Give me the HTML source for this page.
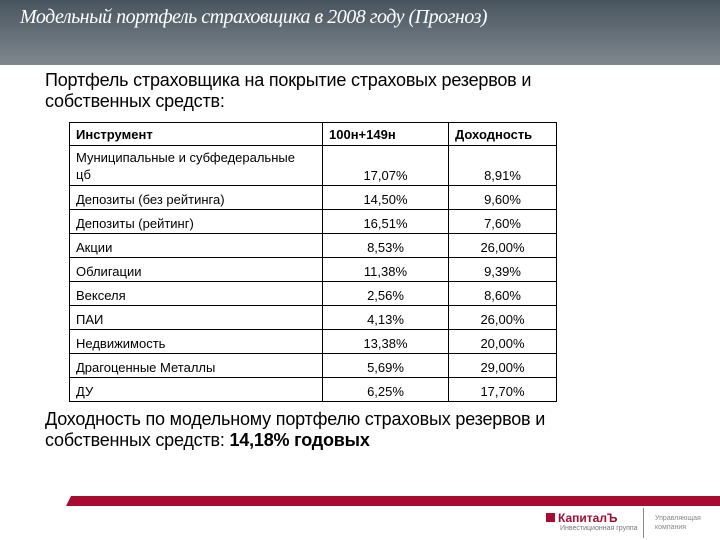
<!DOCTYPE html>
<html><head><meta charset="utf-8">
<style>
body{margin:0;width:720px;height:540px;position:relative;background:#fff;overflow:hidden;font-family:"Liberation Sans","DejaVu Sans",sans-serif;}
#hdr{position:absolute;left:0;top:0;width:720px;height:65px;background:linear-gradient(#48555f,#7f888f);}
#title{position:absolute;left:20px;top:6px;color:#fff;font-family:"Liberation Serif",serif;font-style:italic;font-size:20px;letter-spacing:-0.5px;}
.p{position:absolute;left:45px;font-size:18px;color:#000;line-height:21px;letter-spacing:-0.2px;}
table{position:absolute;left:69px;top:122px;border-collapse:collapse;font-size:13px;table-layout:fixed;}
td,th{border:1px solid #000;padding:0 6px 2px 6px;height:21px;line-height:15px;vertical-align:bottom;box-sizing:content-box;}
td.n{text-align:center;}
th{font-weight:bold;text-align:left;height:22px;vertical-align:middle;padding:0 6px;}
#red{position:absolute;left:66px;top:496px;width:654px;height:10px;background:#a80a30;}
#redtip{position:absolute;left:66px;top:496px;width:0;height:0;border-top:10px solid #fff;border-right:5px solid transparent;}
</style></head><body>
<div id="hdr"></div>
<div id="title">Модельный портфель страховщика в 2008 году (Прогноз)</div>
<div class="p" style="top:70px">Портфель страховщика на покрытие страховых резервов и<br>собственных средств:</div>
<table>
<colgroup><col style="width:253px"><col style="width:126px"><col style="width:108px"></colgroup>
<tr><th>Инструмент</th><th>100н+149н</th><th>Доходность</th></tr>
<tr><td style="height:37px;line-height:17px">Муниципальные и субфедеральные<br>цб</td><td class="n" style="height:37px">17,07%</td><td class="n" style="height:37px">8,91%</td></tr>
<tr><td>Депозиты (без рейтинга)</td><td class="n">14,50%</td><td class="n">9,60%</td></tr>
<tr><td>Депозиты (рейтинг)</td><td class="n">16,51%</td><td class="n">7,60%</td></tr>
<tr><td>Акции</td><td class="n">8,53%</td><td class="n">26,00%</td></tr>
<tr><td>Облигации</td><td class="n">11,38%</td><td class="n">9,39%</td></tr>
<tr><td>Векселя</td><td class="n">2,56%</td><td class="n">8,60%</td></tr>
<tr><td>ПАИ</td><td class="n">4,13%</td><td class="n">26,00%</td></tr>
<tr><td>Недвижимость</td><td class="n">13,38%</td><td class="n">20,00%</td></tr>
<tr><td>Драгоценные Металлы</td><td class="n">5,69%</td><td class="n">29,00%</td></tr>
<tr><td>ДУ</td><td class="n">6,25%</td><td class="n">17,70%</td></tr>
</table>
<div class="p" style="top:409px">Доходность по модельному портфелю страховых резервов и<br>собственных средств: <b>14,18% годовых</b></div>
<div id="red"></div>
<div id="redtip"></div>
<div style="position:absolute;left:546px;top:511px;font-size:12px;font-weight:bold;color:#a80a30"><span style="display:inline-block;width:9px;height:9px;background:#a80a30;margin-right:3px"></span>КапиталЪ</div>
<div style="position:absolute;left:560px;top:525px;font-size:7px;color:#777">Инвестиционная группа</div>
<div style="position:absolute;left:643px;top:508px;width:1px;height:30px;background:#888"></div>
<div style="position:absolute;left:655px;top:514px;font-size:7px;color:#888;line-height:9px">Управляющая<br>компания</div>
</body></html>
